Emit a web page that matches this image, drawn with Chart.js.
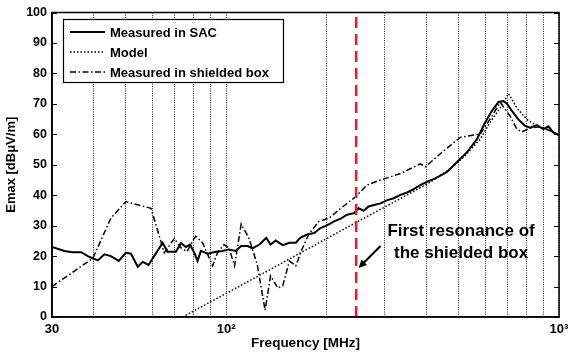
<!DOCTYPE html>
<html>
<head>
<meta charset="utf-8">
<script src="https://cdn.jsdelivr.net/npm/chart.js@4"></script>
<style>
  html, body { margin: 0; padding: 0; background: #fff; }
</style>
</head>
<body>
<canvas id="emaxChart" width="568" height="355"></canvas>
<script>
// Measured in SAC (MHz / dBuV/m)
const sacMHz = [30, 32.7, 34.6, 36.7, 38.9, 41.2, 43.1, 45.1, 47.6, 50, 51.8, 54.3, 56.2, 58.5, 60.8,
  64.5, 66.7, 70.7, 73.2, 75.7, 78, 80.6, 82.1, 84, 88, 93.1, 97.5, 102, 107, 111, 116, 120, 126,
  132, 136, 141, 148, 155, 162, 167, 175, 184, 192, 201, 211, 221, 231, 242, 250, 259, 268, 278,
  291, 305, 319, 334, 350, 366, 383, 401, 425, 461, 494, 529, 567, 600, 629, 658, 681, 697, 722,
  755, 791, 819, 858, 897, 929, 961, 1000];
const sacDb = [23.0, 21.7, 21.3, 21.3, 19.7, 18.6, 20.6, 20.0, 18.4, 21.1, 20.8, 16.5, 18.1, 17.1, 20.0,
  24.4, 21.4, 21.4, 24.3, 23.0, 23.8, 20.6, 18.4, 21.7, 20.8, 21.4, 21.7, 22.2, 21.7, 23.3, 23.3, 22.5, 23.8,
  26.0, 23.8, 25.1, 23.6, 24.4, 24.4, 26.0, 27.1, 27.6, 29.2, 30.1, 31.4, 32.3, 33.6, 34.1, 35.7, 34.9, 36.3, 36.8,
  37.3, 38.4, 39.0, 40.1, 40.9, 42.0, 43.3, 44.4, 45.5, 47.6, 50.9, 54.1, 58.4, 63.9, 67.7, 70.6, 70.9, 70.1, 67.7,
  64.9, 62.8, 62.2, 63.0, 61.7, 62.6, 60.6, 59.7];

// Model
const modelMHz = [74, 119, 167, 236, 334, 411, 471, 517, 580, 621, 666, 705, 747, 800, 858, 940, 1000];
const modelDb = [0, 12.2, 21.0, 30.0, 38.9, 44.3, 48.7, 52.5, 58.4, 63.9, 68.7, 73.4, 68.7, 64.9, 62.8, 61.2, 59.5];

// Measured in shielded box
const boxMHz = [30, 39.8, 45.1, 50, 59.5, 65.2, 69.9, 73.2, 76.3, 80.2, 81.1, 85, 91.1, 94.2, 98.6, 102,
  106, 111, 117, 124, 131, 136, 143, 148, 155, 162, 169, 177, 190, 204, 221, 245, 265, 284, 334,
  383, 397, 440, 471, 505, 580, 621, 666, 713, 747, 773, 819, 877, 926, 1000];
const boxDb = [10.0, 19.3, 32.5, 37.9, 35.7, 21.1, 25.8, 22.7, 21.5, 25.8, 26.5, 24.4, 16.8, 21.1, 23.8, 22.7,
  16.8, 30.5, 26.0, 17.3, 2.2, 13.5, 9.5, 10.3, 18.4, 16.8, 22.2, 27.1, 31.4, 32.5, 35.7, 39.5, 43.3, 44.6, 47.1,
  50.3, 49.3, 53.6, 56.3, 59.0, 60.1, 65.0, 70.5, 66.0, 61.7, 60.8, 62.0, 62.5, 61.5, 59.8];

// first resonance of the shielded box
const resonanceMHz = 246;

// axes
const xGridMHz = [30, 40, 50, 60, 70, 80, 90, 100, 200, 300, 400, 500, 600, 700, 800, 900, 1000];
const xTickText = { 30: '30', 100: '10²', 1000: '10³' };
const yTicks = [0, 10, 20, 30, 40, 50, 60, 70, 80, 90, 100];

const FONT = "'Liberation Sans', Arial, sans-serif";

function toPoints(xs, ys) {
  return xs.map((x, i) => ({ x: x, y: ys[i] }));
}

// frame, inward ticks, legend box and the arrow note
const decorPlugin = {
  id: 'decor',
  afterDatasetsDraw(chart) {
    const { ctx, chartArea: a, scales } = chart;
    ctx.save();
    ctx.setLineDash([]);
    ctx.strokeStyle = '#000';

    // inward tick marks on both sides
    ctx.lineWidth = 1;
    ctx.beginPath();
    yTicks.forEach(v => {
      const py = Math.round(scales.y.getPixelForValue(v)) + 0.5;
      ctx.moveTo(a.left, py); ctx.lineTo(a.left + 5, py);
      ctx.moveTo(a.right, py); ctx.lineTo(a.right - 5, py);
    });
    ctx.stroke();

    // box
    ctx.lineWidth = 1.5;
    ctx.strokeRect(a.left, a.top, a.right - a.left, a.bottom - a.top);

    // legend
    const lx = 63, ly = 19, lw = 220, lh = 63;
    ctx.fillStyle = '#fff';
    ctx.fillRect(lx, ly, lw, lh);
    ctx.lineWidth = 1.2;
    ctx.strokeRect(lx + 0.5, ly + 0.5, lw, lh);
    ctx.font = 'bold 13px ' + FONT;
    ctx.textBaseline = 'middle';
    ctx.fillStyle = '#000';
    [0, 1, 2].forEach((i, row) => {
      const ds = chart.data.datasets[i];
      const yy = ly + 13 + row * 20;
      ctx.beginPath();
      ctx.setLineDash(ds.borderDash || []);
      ctx.lineWidth = ds.borderWidth;
      ctx.moveTo(lx + 7, yy);
      ctx.lineTo(lx + 42, yy);
      ctx.stroke();
      ctx.setLineDash([]);
      ctx.fillText(ds.label, lx + 47, yy + 1);
    });

    // note with arrow
    const nx = scales.x.getPixelForValue(508);
    ctx.font = 'bold 17px ' + FONT;
    ctx.textAlign = 'center';
    ctx.fillText('First resonance of', nx, scales.y.getPixelForValue(28.1));
    ctx.fillText('the shielded box', nx, scales.y.getPixelForValue(21.0));

    const x0 = scales.x.getPixelForValue(291), y0 = scales.y.getPixelForValue(23.3);
    const x1 = scales.x.getPixelForValue(250), y1 = scales.y.getPixelForValue(16.1);
    const ang = Math.atan2(y1 - y0, x1 - x0);
    ctx.lineWidth = 2;
    ctx.beginPath();
    ctx.moveTo(x0, y0);
    ctx.lineTo(x1 - 6 * Math.cos(ang), y1 - 6 * Math.sin(ang));
    ctx.stroke();
    ctx.beginPath();
    ctx.moveTo(x1, y1);
    ctx.lineTo(x1 - 9 * Math.cos(ang - 0.45), y1 - 9 * Math.sin(ang - 0.45));
    ctx.lineTo(x1 - 9 * Math.cos(ang + 0.45), y1 - 9 * Math.sin(ang + 0.45));
    ctx.closePath();
    ctx.fill();
    ctx.restore();
  }
};

const ctx = document.getElementById('emaxChart').getContext('2d');
new Chart(ctx, {
  type: 'line',
  data: {
    datasets: [
      {
        label: 'Measured in SAC',
        data: toPoints(sacMHz, sacDb),
        borderColor: '#000',
        borderWidth: 2,
        pointRadius: 0,
        tension: 0,
        order: 2
      },
      {
        label: 'Model',
        data: toPoints(modelMHz, modelDb),
        borderColor: '#000',
        borderWidth: 1.5,
        borderDash: [1.5, 2],
        pointRadius: 0,
        tension: 0,
        order: 3
      },
      {
        label: 'Measured in shielded box',
        data: toPoints(boxMHz, boxDb),
        borderColor: '#000',
        borderWidth: 1.5,
        borderDash: [6, 2.5, 1.5, 2.5],
        pointRadius: 0,
        tension: 0,
        order: 4
      },
      {
        label: 'First resonance',
        data: [{ x: resonanceMHz, y: 0 }, { x: resonanceMHz, y: 100 }],
        borderColor: '#ee1b24',
        borderWidth: 2.5,
        borderDash: [11, 6],
        pointRadius: 0,
        order: 1
      }
    ]
  },
  options: {
    responsive: false,
    animation: false,
    layout: { padding: { top: 8, right: 9, left: 0, bottom: 0 } },
    plugins: {
      legend: { display: false },
      tooltip: { enabled: false }
    },
    scales: {
      x: {
        type: 'logarithmic',
        min: 30,
        max: 1000,
        afterBuildTicks: s => { s.ticks = xGridMHz.map(v => ({ value: v })); },
        afterFit: s => { s.height = 38; s.paddingLeft = 0; s.paddingRight = 0; },
        ticks: {
          autoSkip: false,
          maxRotation: 0,
          padding: 5,
          color: '#000',
          font: { family: FONT, size: 13, weight: 'bold' },
          callback: v => xTickText[v] || ''
        },
        grid: { color: '#222', lineWidth: 1, drawTicks: false },
        border: { display: true, color: '#000', width: 1.5, dash: [1, 1.3] },
        title: {
          display: true,
          text: 'Frequency [MHz]',
          color: '#000',
          font: { family: FONT, size: 13.5, weight: 'bold' },
          padding: { top: 0, bottom: 4 }
        }
      },
      y: {
        min: 0,
        max: 100,
        afterFit: s => { s.width = 52; },
        ticks: {
          stepSize: 10,
          padding: 5,
          color: '#000',
          font: { family: FONT, size: 12.5, weight: 'bold' }
        },
        grid: { drawOnChartArea: false, drawTicks: false },
        border: { display: true, color: '#000', width: 1.5 },
        title: {
          display: true,
          text: 'Emax [dBμV/m]',
          color: '#000',
          font: { family: FONT, size: 13, weight: 'bold' },
          padding: { top: 4, bottom: 0 }
        }
      }
    }
  },
  plugins: [decorPlugin]
});
</script>
</body>
</html>
